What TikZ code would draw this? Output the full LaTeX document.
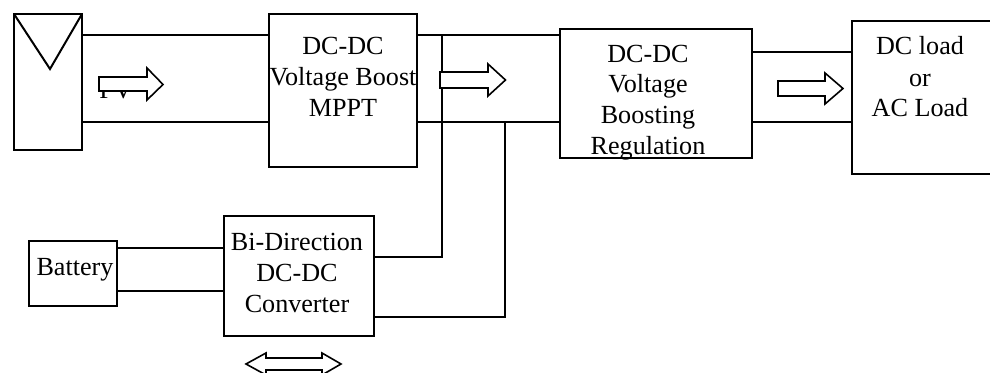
\documentclass[tikz,border=0pt]{standalone}
\usepackage{fontspec}
\setmainfont{Liberation Serif}
\begin{document}
\begin{tikzpicture}[x=0.75pt,y=-0.75pt,
  blockbox/.style={draw=black,line width=1.6pt,inner sep=0pt,outer sep=0pt,anchor=north west},
  wire/.style={draw=black,line width=1.1pt},
  flow/.style={draw=black,fill=white,line width=1.2pt,line join=miter},
  lab/.style={anchor=base,inner sep=0pt,font=\fontsize{19.6pt}{23pt}\selectfont}]
\useasboundingbox (0,0) rectangle (990,373);
\fill[white] (0,0) rectangle (990,373);
% labels
\node[lab] (tpv) at (116,99) {PV};
\node[lab] (t1a) at (343,55) {DC-DC};
\node[lab] (t1b) at (343,86) {Voltage Boost};
\node[lab] (t1c) at (343,117) {MPPT};
\node[lab] (t2a) at (648,63) {DC-DC};
\node[lab] (t2b) at (648,93) {Voltage};
\node[lab] (t2c) at (648,124) {Boosting};
\node[lab] (t2d) at (648,155) {Regulation};
\node[lab] (t3a) at (920,55) {DC load};
\node[lab] (t3b) at (920,87) {or};
\node[lab] (t3c) at (920,117) {AC Load};
\node[lab] (t4a) at (297,251) {Bi-Direction};
\node[lab] (t4b) at (297,282) {DC-DC};
\node[lab] (t4c) at (297,313) {Converter};
\node[lab] (t5) at (75,276) {Battery};
% blocks
\node[blockbox,minimum width=51pt,minimum height=102pt] (pv) at (14,14) {};
\node[blockbox,minimum width=111pt,minimum height=114.75pt] (mppt) at (269,14) {};
\node[blockbox,minimum width=144pt,minimum height=96.75pt] (reg) at (560,29) {};
\node[blockbox,minimum width=110pt,minimum height=114.75pt] (load) at (852,21) {};
\node[blockbox,minimum width=112.5pt,minimum height=90pt] (conv) at (224,216) {};
\node[blockbox,minimum width=66pt,minimum height=48.75pt] (bat) at (29,241) {};
% panel mark
\coordinate (tip) at (50,69);
\draw[line width=1.5pt,line join=miter] (pv.north west) -- (tip) -- (pv.north east);
% connectors
\draw[wire] (pv.east |- 0,35) -- (mppt.west |- 0,35);
\draw[wire] (pv.east |- 0,122) -- (mppt.west |- 0,122);
\draw[wire] (mppt.east |- 0,35) -- (reg.west |- 0,35);
\draw[wire] (mppt.east |- 0,122) -- (reg.west |- 0,122);
\draw[wire] (reg.east |- 0,52) -- (load.west |- 0,52);
\draw[wire] (reg.east |- 0,122) -- (load.west |- 0,122);
\draw[wire] (bat.east |- 0,248) -- (conv.west |- 0,248);
\draw[wire] (bat.east |- 0,291) -- (conv.west |- 0,291);
\draw[wire] (conv.east |- 0,257) -- (442,257) -- (442,34);
\draw[wire] (conv.east |- 0,317) -- (505,317) -- (505,122);
% flow arrows
\draw[flow] (99,77) -- (147,77) -- (147,68) -- (163,84.5) -- (147,100) -- (147,91) -- (99,91) -- cycle;
\draw[flow] (440,72) -- (488,72) -- (488,64) -- (505.5,80) -- (488,96) -- (488,88) -- (440,88) -- cycle;
\draw[flow] (778,81) -- (825,81) -- (825,73) -- (843,88.5) -- (825,104) -- (825,96) -- (778,96) -- cycle;
\draw[flow] (246,364) -- (266,353) -- (266,358) -- (322,358) -- (322,353) -- (341,364) -- (322,375) -- (322,370) -- (266,370) -- (266,375) -- cycle;
\end{tikzpicture}
\end{document}
